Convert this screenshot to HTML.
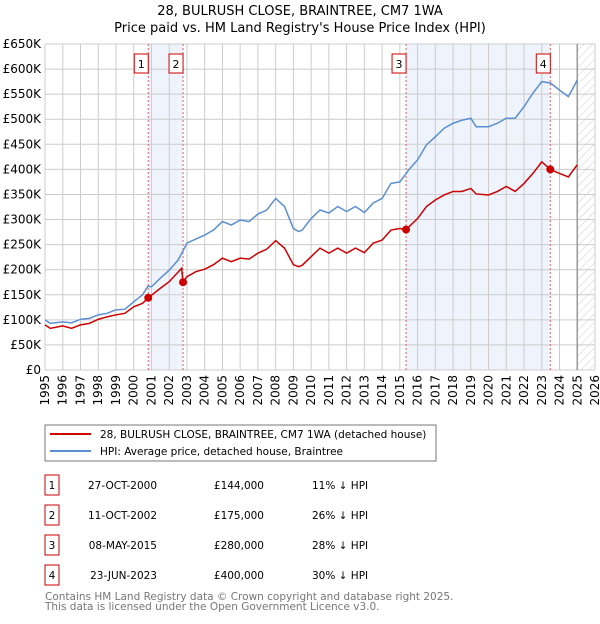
<!DOCTYPE html>
<html><head><meta charset="utf-8"><style>
body{margin:0;background:#fff;font-family:"DejaVu Sans","Liberation Sans",sans-serif;}
svg text{font-family:"DejaVu Sans","Liberation Sans",sans-serif;}
</style></head><body>
<svg id="chart" width="600" height="620" xmlns="http://www.w3.org/2000/svg">
<text x="300" y="15" text-anchor="middle" font-size="13" fill="#000">28, BULRUSH CLOSE, BRAINTREE, CM7 1WA</text>
<text x="300" y="32" text-anchor="middle" font-size="13" fill="#000">Price paid vs. HM Land Registry's House Price Index (HPI)</text>
<defs><pattern id="hatch" width="6" height="6" patternUnits="userSpaceOnUse" patternTransform="rotate(45)"><line x1="0" y1="0" x2="0" y2="6" stroke="#ccc" stroke-width="1"/></pattern></defs>
<g id="grid"></g><g id="marks"></g>
<rect x="45" y="425" width="391" height="36" fill="#fff" stroke="#777"/>
<line x1="50" y1="434" x2="91" y2="434" stroke="#cc0000" stroke-width="2"/>
<text x="100" y="438" font-size="10.5">28, BULRUSH CLOSE, BRAINTREE, CM7 1WA (detached house)</text>
<line x1="50" y1="451" x2="91" y2="451" stroke="#5b8fd1" stroke-width="2"/>
<text x="100" y="455" font-size="10.5">HPI: Average price, detached house, Braintree</text>
<g id="table" font-size="10.5"></g>
<text x="45" y="600" font-size="10.5" fill="#777">Contains HM Land Registry data © Crown copyright and database right 2025.</text>
<text x="45" y="610" font-size="10.5" fill="#777">This data is licensed under the Open Government Licence v3.0.</text>
</svg>
<script>
const hpiYears=[1995,1995.3,1996,1996.5,1997,1997.5,1998,1998.5,1999,1999.5,2000,2000.5,2000.8,2001,2001.5,2002,2002.5,2002.8,2003,2003.5,2004,2004.5,2005,2005.5,2006,2006.5,2007,2007.5,2008,2008.5,2009,2009.3,2009.5,2010,2010.5,2011,2011.5,2012,2012.5,2013,2013.5,2014,2014.5,2015,2015.5,2016,2016.5,2017,2017.5,2018,2018.5,2019,2019.3,2019.5,2020,2020.5,2021,2021.5,2022,2022.5,2023,2023.5,2024,2024.5,2024.7,2025];
const hpiValues=[100,93,96,94,101,103,110,113,120,121,136,150,167,166,183,199,219,239,253,261,269,279,296,289,299,296,311,319,342,326,282,276,279,302,319,313,326,316,326,314,333,342,372,375,399,419,449,465,482,492,498,502,485,485,485,492,502,502,525,552,575,572,558,545,558,578];
const propYears=[1995,1995.3,1996,1996.5,1997,1997.5,1998,1998.5,1999,1999.5,2000,2000.5,2000.82,2001.5,2002,2002.7,2002.78,2003,2003.5,2004,2004.5,2005,2005.5,2006,2006.5,2007,2007.5,2008,2008.5,2009,2009.3,2009.5,2010,2010.5,2011,2011.5,2012,2012.5,2013,2013.5,2014,2014.5,2015,2015.35,2016,2016.5,2017,2017.5,2018,2018.5,2019,2019.3,2020,2020.5,2021,2021.5,2022,2022.5,2023,2023.48,2024,2024.5,2024.7,2025];
const propValues=[90,83,88,83,90,93,101,106,110,113,126,133,144,163,176,203,175,186,196,201,210,223,216,223,221,233,241,258,243,210,206,209,226,243,233,243,233,243,234,253,259,279,282,280,302,326,339,349,356,356,362,351,349,356,366,356,372,392,415,400,392,385,395,409];
const saleYears=[2000.82,2002.78,2015.35,2023.48];
const saleValues=[144,175,280,400];
const saleLabels=["1","2","3","4"];
const saleDates=["27-OCT-2000","11-OCT-2002","08-MAY-2015","23-JUN-2023"];
const salePrices=["£144,000","£175,000","£280,000","£400,000"];
const saleDiffs=["11% ↓ HPI","26% ↓ HPI","28% ↓ HPI","30% ↓ HPI"];
const yTicks=[0,50,100,150,200,250,300,350,400,450,500,550,600,650];
const xTicks=[];for(let y=1995;y<=2026;y++)xTicks.push(y);
const X0=45,X1=595,Y0=370,Y1=44;
const xs=y=>X0+(y-1995)/31*(X1-X0);
const ys=v=>Y0-v/650*(Y0-Y1);
const NS="http://www.w3.org/2000/svg";
function mk(p,t,a){const e=document.createElementNS(NS,t);for(const k in a)e.setAttribute(k,a[k]);p.appendChild(e);return e;}
const grid=document.getElementById('grid'),marks=document.getElementById('marks');
let sh=mk(grid,'rect',{x:xs(saleYears[0]),y:Y1,width:xs(saleYears[1])-xs(saleYears[0]),height:Y0-Y1,fill:'#eef3fc'});


let sh2=mk(grid,'rect',{x:xs(saleYears[2]),y:Y1,width:xs(saleYears[3])-xs(saleYears[2]),height:Y0-Y1,fill:'#eef3fc'});


let ht=mk(grid,'rect',{x:xs(2025),y:Y1,width:X1-xs(2025),height:Y0-Y1,fill:'url(#hatch)'});


yTicks.forEach(v=>{
 const l=mk(grid,'line',{x1:X0,x2:X1,y1:ys(v),y2:ys(v),stroke:'#ccc','stroke-width':1});
 
 
 const t=mk(grid,'text',{x:X0-4,y:ys(v)+4,'text-anchor':'end','font-size':12});
 t.textContent=v===0?'£0':'£'+v+'K';
 
 
});
xTicks.forEach(y=>{
 const l=mk(grid,'line',{x1:xs(y),x2:xs(y),y1:Y1,y2:Y0,stroke:'#ccc','stroke-width':1});
 
 
 const t=mk(grid,'text',{transform:`translate(${xs(y)+4},${Y0+5}) rotate(-90)`,'text-anchor':'end','font-size':12});
 t.textContent=y;
 
 
});
let nl=mk(grid,'line',{x1:xs(2025),x2:xs(2025),y1:Y1,y2:Y0,stroke:'#999','stroke-width':1.5});


saleYears.forEach((y,i)=>{
 const l=mk(grid,'line',{x1:xs(y),x2:xs(y),y1:Y1,y2:Y0,stroke:'#e06060','stroke-dasharray':'2,2','stroke-width':1});
 
 
 const b=mk(grid,'rect',{x:xs(y)-14,y:54,width:14,height:19,fill:'#fff',stroke:'#cc0000'});
 
 
 const t=mk(grid,'text',{x:xs(y)-7,y:68,'text-anchor':'middle','font-size':11});
 t.textContent=saleLabels[i];
 
 
});
const hp=mk(marks,'polyline',{points:hpiYears.map((y,i)=>xs(y)+','+ys(hpiValues[i])).join(' '),fill:'none',stroke:'#5b8fd1','stroke-width':1.5});


const pp=mk(marks,'polyline',{points:propYears.map((y,i)=>xs(y)+','+ys(propValues[i])).join(' '),fill:'none',stroke:'#cc0000','stroke-width':1.5});


saleYears.forEach((y,i)=>{
 const c=mk(marks,'circle',{cx:xs(y),cy:ys(saleValues[i]),r:4,fill:'#cc0000'});
 
 
});
const tb=document.getElementById('table');
saleLabels.forEach((s,i)=>{
 const yy=475+i*30;
 const b=mk(tb,'rect',{x:45,y:yy,width:14,height:20,fill:'#fff',stroke:'#cc0000'});
 
 
 const t=mk(tb,'text',{x:52,y:yy+14,'text-anchor':'middle'});t.textContent=s;
 
 
 const d=mk(tb,'text',{x:157,y:yy+14,'text-anchor':'end'});d.textContent=saleDates[i];
 
 
 const p=mk(tb,'text',{x:264,y:yy+14,'text-anchor':'end'});p.textContent=salePrices[i];
 
 
 const h=mk(tb,'text',{x:312,y:yy+14});h.textContent=saleDiffs[i];
 
 
});
</script>
</body></html>
